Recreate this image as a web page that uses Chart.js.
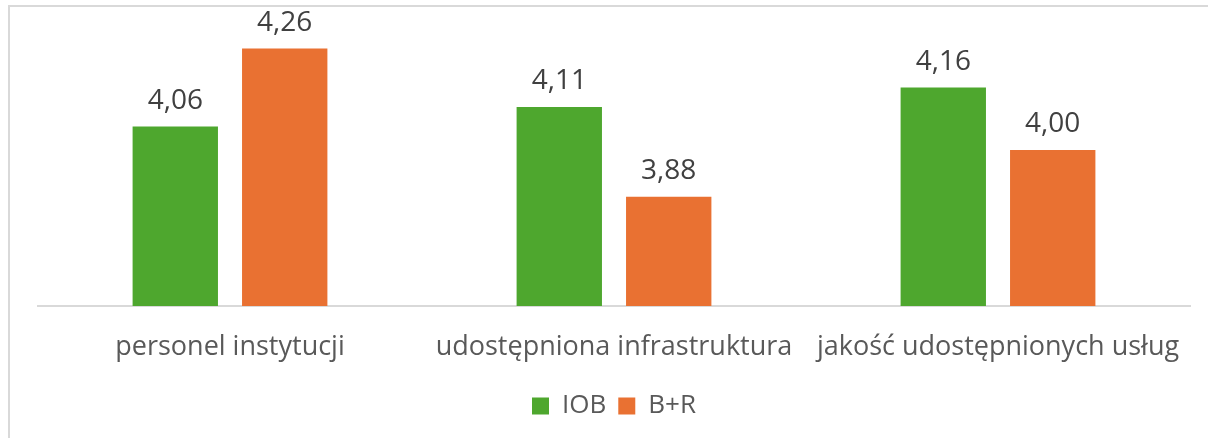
<!DOCTYPE html>
<html>
<head>
<meta charset="utf-8">
<script src="https://cdn.jsdelivr.net/npm/chart.js@4/dist/chart.umd.min.js"></script>
<style>
  html, body { margin: 0; padding: 0; background: #fff; }
  #frame {
    position: absolute; left: 8px; top: 5px; width: 1300px; height: 500px;
    border-left: 2px solid #d9d9d9; border-top: 2px solid #d9d9d9;
  }
  #wrap { position: absolute; left: 0; top: 0; width: 1208px; height: 438px; }
</style>
</head>
<body>
<div id="frame"></div>
<div id="wrap"><canvas id="chart"></canvas></div>
<script>
const categories = ["personel instytucji", "udostępniona infrastruktura", "jakość udostępnionych usług"];
const series_names = ["IOB", "B+R"];
const iob_values = [4.06, 4.11, 4.16];
const br_values = [4.26, 3.88, 4.00];
const series_colors = ["#4EA72E", "#E97132"];

const font_family = "'Open Sans', 'Liberation Sans', sans-serif";

// draw value labels above each bar, with comma as decimal separator
const value_labels = {
    id: "value_labels",
    afterDatasetsDraw(chart) {
        const ctx = chart.ctx;
        ctx.save();
        ctx.font = "28px " + font_family;
        ctx.fillStyle = "#404040";
        ctx.textAlign = "center";
        ctx.textBaseline = "middle";
        chart.data.datasets.forEach((ds, i) => {
            chart.getDatasetMeta(i).data.forEach((bar, j) => {
                const txt = ds.data[j].toFixed(2).replace(".", ",");
                ctx.fillText(txt, bar.x, bar.y - 26);
            });
        });
        ctx.restore();
    },
};

const ctx = document.getElementById("chart").getContext("2d");
const chart = new Chart(ctx, {
    type: "bar",
    data: {
        labels: categories,
        datasets: [
            { label: series_names[0], data: iob_values, backgroundColor: series_colors[0] },
            { label: series_names[1], data: br_values, backgroundColor: series_colors[1] },
        ],
    },
    options: {
        responsive: true,
        maintainAspectRatio: false,
        animation: false,
        layout: { padding: { left: 38, right: 18, top: 33, bottom: 9 } },
        datasets: { bar: { categoryPercentage: 0.57, barPercentage: 0.78 } },
        scales: {
            x: {
                grid: { display: false, drawTicks: false },
                border: { display: true, color: "#d9d9d9", width: 2 },
                ticks: {
                    color: "#595959",
                    padding: 25,
                    font: { family: font_family, size: 27 },
                },
                afterFit(scale) {
                    scale.height = 75;
                },
            },
            y: {
                display: false,
                min: 3.6,
                max: 4.3,
            },
        },
        plugins: {
            legend: {
                position: "bottom",
                labels: {
                    color: "#595959",
                    boxWidth: 17,
                    boxHeight: 17,
                    padding: 12,
                    font: { family: font_family, size: 26 },
                },
            },
            tooltip: { enabled: false },
        },
    },
    plugins: [value_labels],
});
</script>
</body>
</html>
